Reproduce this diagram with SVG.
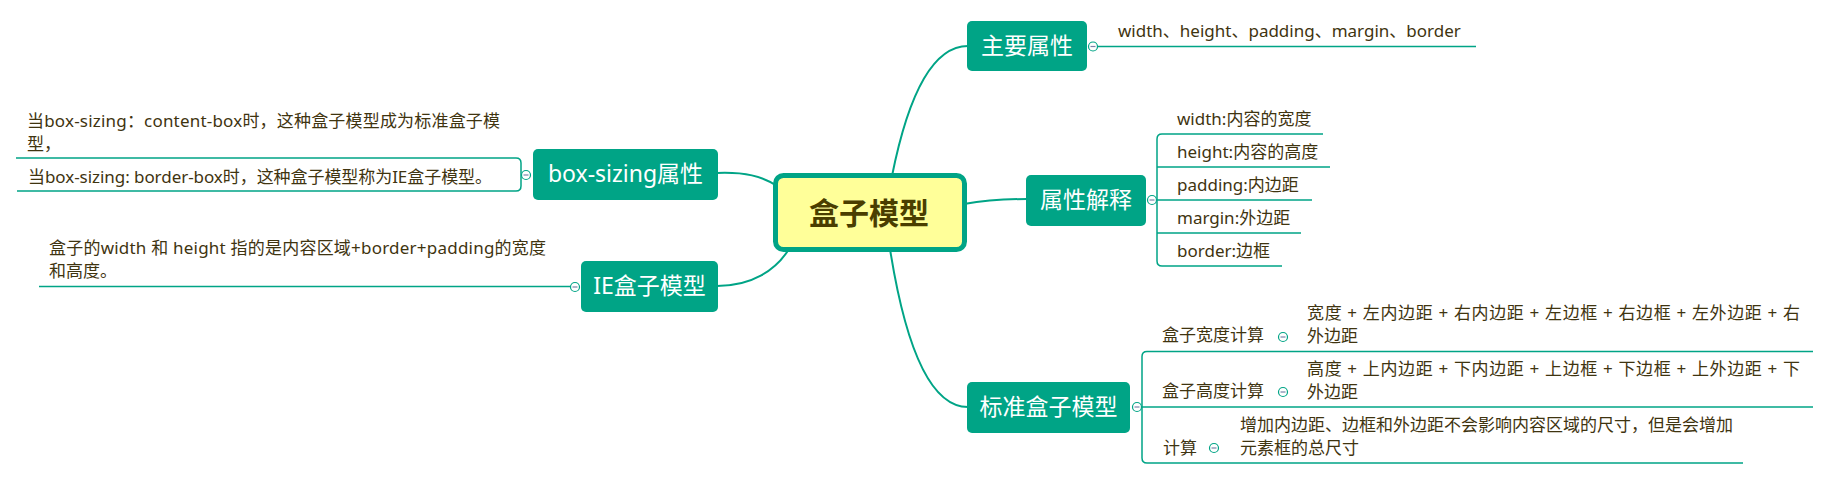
<svg xmlns="http://www.w3.org/2000/svg" width="1830" height="479" viewBox="0 0 1830 479">
<style>
  .conn { fill: none; stroke: #00a486; stroke-width: 2; }
  .line { fill: none; stroke: #00a486; stroke-width: 1.5; }
  .topic { fill: #00a486; }
  .tt { font-family: "Noto Sans", "Noto Sans CJK SC", sans-serif; font-size: 23px; fill: #ffffff; text-anchor: middle; }
  .st { font-family: "Noto Sans", "Noto Sans CJK SC", sans-serif; font-size: 17px; fill: #3f3410; }
  .ct { font-family: "Noto Sans CJK SC", sans-serif; font-size: 30px; font-weight: bold; fill: #4a3e00; text-anchor: middle; }
  .tog { fill: #ffffff; stroke: #00a486; stroke-width: 1.2; }
  .minus { stroke: #7a84a8; stroke-width: 1.2; }
</style>
<defs>
  <g id="toggle">
    <circle cx="0" cy="0" r="4.5" class="tog"/>
    <line x1="-2.5" y1="0" x2="2.5" y2="0" class="minus"/>
  </g>
</defs>

<g id="connectors">
  <path class="conn" d="M 892 176 Q 918 46 968 46"/>
  <path class="conn" d="M 964 204 Q 992 199 1027 199"/>
  <path class="conn" d="M 890 249 Q 915 407 968 407"/>
  <path class="conn" d="M 717 173 C 745 172 762 176 777 186"/>
  <path class="conn" d="M 717 286 C 752 286 776 270 789 249"/>
  <path class="line" d="M 1097.5 46.5 H 1476"/>
  <path class="line" d="M 1323 134 H 1162 Q 1157 134 1157 139 V 261 Q 1157 266 1162 266 H 1282"/>
  <path class="line" d="M 1157 167 H 1330 M 1157 200 H 1312 M 1157 233 H 1301"/>
  <path class="line" d="M 1813 351.5 H 1147 Q 1142 351.5 1142 356.5 V 458 Q 1142 463 1147 463 H 1743"/>
  <path class="line" d="M 1142 407 H 1813"/>
  <path class="line" d="M 16 158 H 516 Q 521 158 521 163 V 186 Q 521 191 516 191 H 17"/>
  <path class="line" d="M 39 286.5 H 571"/>
</g>

<g id="center">
  <rect x="775.5" y="175.5" width="189" height="74" rx="8" fill="#ffff99" stroke="#00a486" stroke-width="5"/>
  <text class="ct" x="869" y="224">盒子模型</text>
</g>

<g id="main-props">
  <rect class="topic" x="967" y="21" width="120" height="50" rx="5"/>
  <text class="tt" x="1027" y="54">主要属性</text>
  <use href="#toggle" x="1093" y="46.5"/>
</g>
<g id="main-props-text">
  <text class="st" x="1118" y="37">width、height、padding、margin、border</text>
</g>

<g id="attr-explain">
  <rect class="topic" x="1026" y="175" width="120" height="51" rx="5"/>
  <text class="tt" x="1086" y="208">属性解释</text>
  <use href="#toggle" x="1152" y="200"/>
</g>
<g id="attr-width"><text class="st" x="1177" y="125">width:内容的宽度</text></g>
<g id="attr-height"><text class="st" x="1177" y="158">height:内容的高度</text></g>
<g id="attr-padding"><text class="st" x="1177" y="191">padding:内边距</text></g>
<g id="attr-margin"><text class="st" x="1177" y="224">margin:外边距</text></g>
<g id="attr-border"><text class="st" x="1177" y="257">border:边框</text></g>

<g id="std-box">
  <rect class="topic" x="967" y="382" width="163" height="51" rx="5"/>
  <text class="tt" x="1048.5" y="415">标准盒子模型</text>
  <use href="#toggle" x="1137" y="407"/>
</g>
<g id="std-width">
  <text class="st" x="1162" y="341">盒子宽度计算</text>
  <use href="#toggle" x="1283" y="337"/>
</g>
<g id="std-width-detail">
  <text class="st" x="1307" y="319" textLength="493" lengthAdjust="spacing">宽度 + 左内边距 + 右内边距 + 左边框 + 右边框 + 左外边距 + 右</text>
  <text class="st" x="1307" y="342">外边距</text>
</g>
<g id="std-height">
  <text class="st" x="1162" y="397">盒子高度计算</text>
  <use href="#toggle" x="1283" y="392"/>
</g>
<g id="std-height-detail">
  <text class="st" x="1307" y="375" textLength="493" lengthAdjust="spacing">高度 + 上内边距 + 下内边距 + 上边框 + 下边框 + 上外边距 + 下</text>
  <text class="st" x="1307" y="398">外边距</text>
</g>
<g id="std-calc">
  <text class="st" x="1163" y="454">计算</text>
  <use href="#toggle" x="1214" y="448"/>
</g>
<g id="std-calc-detail">
  <text class="st" x="1240" y="431">增加内边距、边框和外边距不会影响内容区域的尺寸，但是会增加</text>
  <text class="st" x="1240" y="454">元素框的总尺寸</text>
</g>

<g id="box-sizing">
  <rect class="topic" x="533" y="149" width="185" height="51" rx="5"/>
  <text class="tt" x="625.5" y="182">box-sizing属性</text>
  <use href="#toggle" x="526" y="175"/>
</g>
<g id="bs-content">
  <text class="st" x="27" y="127" textLength="473" lengthAdjust="spacing">当box-sizing：content-box时，这种盒子模型成为标准盒子模</text>
  <text class="st" x="27" y="150">型，</text>
</g>
<g id="bs-border">
  <text class="st" x="28" y="183" textLength="464" lengthAdjust="spacing">当box-sizing: border-box时，这种盒子模型称为IE盒子模型。</text>
</g>

<g id="ie-box">
  <rect class="topic" x="581" y="261" width="137" height="51" rx="5"/>
  <text class="tt" x="649.5" y="294">IE盒子模型</text>
  <use href="#toggle" x="575" y="287"/>
</g>
<g id="ie-detail">
  <text class="st" x="49" y="254" textLength="497" lengthAdjust="spacing">盒子的width 和 height 指的是内容区域+border+padding的宽度</text>
  <text class="st" x="49" y="277">和高度。</text>
</g>
</svg>
